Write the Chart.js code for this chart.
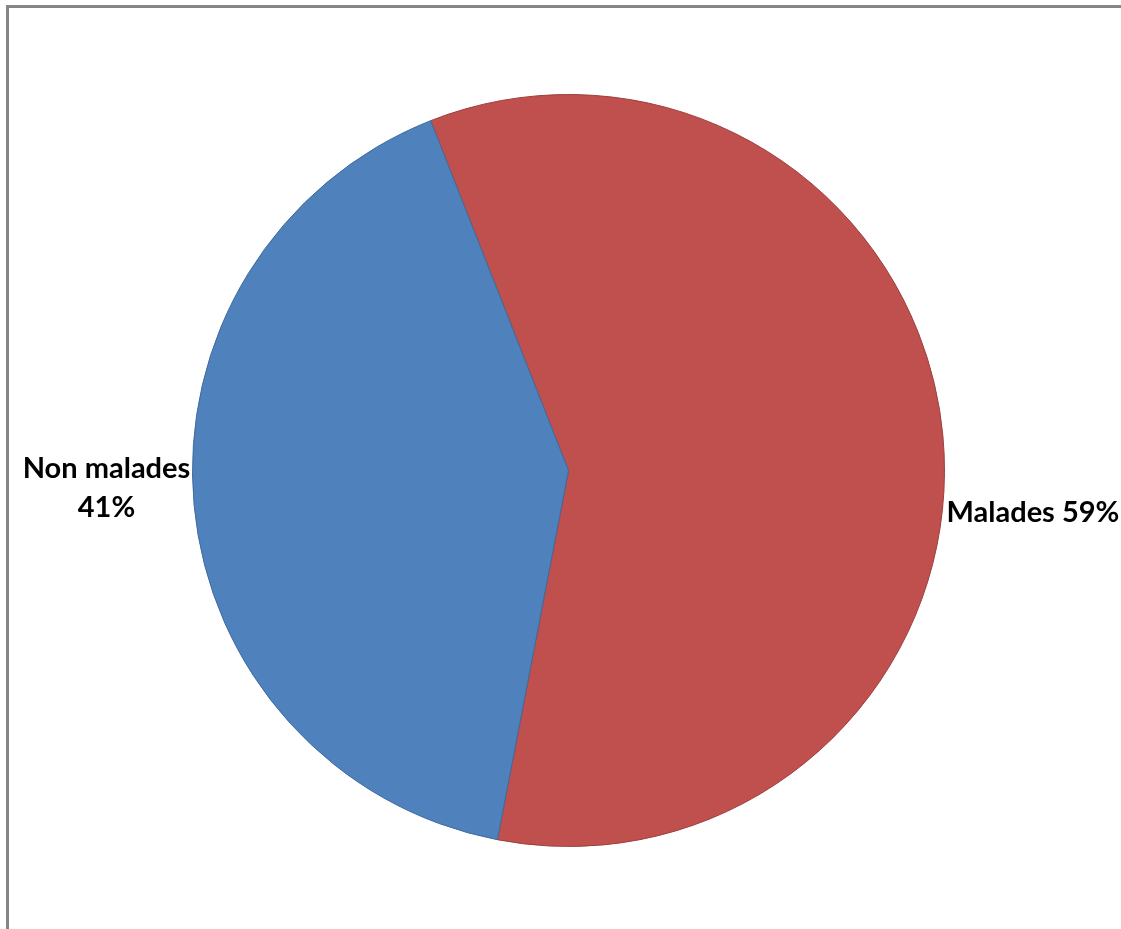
<!DOCTYPE html>
<html>
<head>
<meta charset="utf-8">
<script src="https://cdn.jsdelivr.net/npm/chart.js@4"></script>
<style>
  html, body { margin: 0; padding: 0; background: #fff; }
  #wrap { position: relative; width: 1121px; height: 929px; }
</style>
</head>
<body>
<div id="wrap"><canvas id="myChart"></canvas></div>
<script>
const categories = ['Malades', 'Non malades'];
const values = [59, 41];
const sliceColors = ['#C0504D', '#4F81BD'];
const edgeColors = ['#9c3f3c', '#3f6a9c'];

// gray frame on the left and top edges
const frame = {
    id: 'frame',
    beforeDraw(chart) {
        const c = chart.ctx;
        c.save();
        c.fillStyle = '#868686';
        c.fillRect(6, 5, 3, chart.height - 5);
        c.fillRect(6, 5, chart.width - 6, 3);
        c.restore();
    }
};

// category name + percentage next to each slice
const sliceLabels = {
    id: 'sliceLabels',
    afterDatasetsDraw(chart) {
        const c = chart.ctx;
        const meta = chart.getDatasetMeta(0);
        const total = values.reduce((a, b) => a + b, 0);
        c.save();
        c.fillStyle = '#000';
        c.font = 'bold 29px Lato';
        c.textBaseline = 'middle';
        meta.data.forEach((arc, i) => {
            const mid = (arc.startAngle + arc.endAngle) / 2;
            const pct = Math.round(values[i] / total * 100) + '%';
            if (Math.cos(mid) >= 0) {
                c.textAlign = 'left';
                c.fillText(categories[i] + ' ' + pct, arc.x + arc.outerRadius + 2, arc.y + 42);
            } else {
                c.textAlign = 'center';
                const x = arc.x - arc.outerRadius - 86;
                c.fillText(categories[i], x, arc.y - 2);
                c.fillText(pct, x, arc.y + 37);
            }
        });
        c.restore();
    }
};

const ctx = document.getElementById('myChart');

new Chart(ctx, {
    type: 'pie',
    data: {
        labels: categories,
        datasets: [{
            data: values,
            backgroundColor: sliceColors,
            borderColor: edgeColors,
            borderWidth: 1
        }]
    },
    options: {
        responsive: true,
        maintainAspectRatio: false,
        animation: false,
        rotation: -21.5,
        layout: {
            padding: { top: 94, bottom: 82, left: 192, right: 176 }
        },
        plugins: {
            legend: { display: false },
            tooltip: { enabled: false }
        }
    },
    plugins: [frame, sliceLabels]
});
</script>
</body>
</html>
